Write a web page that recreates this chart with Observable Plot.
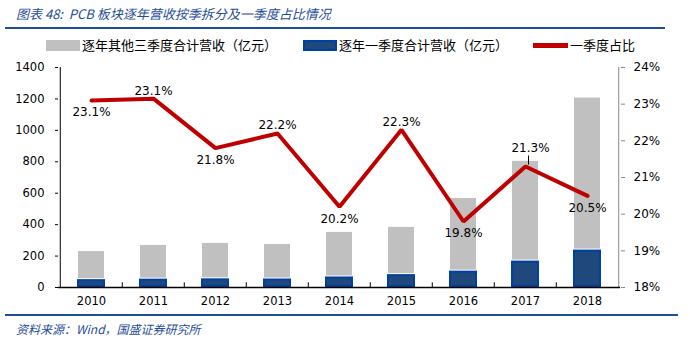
<!DOCTYPE html>
<html>
<head>
<meta charset="utf-8">
<script src="https://cdn.jsdelivr.net/npm/d3@7"></script>
<script src="https://cdn.jsdelivr.net/npm/@observablehq/plot@0.6"></script>
<style>
  body { margin: 0; background: #fff; width: 690px; height: 344px; position: relative; overflow: hidden; font-family: "Noto Sans CJK SC", sans-serif; }
  #title { position: absolute; left: 16px; top: 4px; font-size: 13px; font-style: italic; font-weight: normal; color: #1F4E99; white-space: nowrap; }
  #tline { position: absolute; left: 5px; top: 27px; width: 660px; height: 2px; background: #1F4E99; }
  .leg { position: absolute; top: 36px; font-size: 13px; color: #000; white-space: nowrap; line-height: 18px; }
  .sw { position: absolute; }
  #chart { position: absolute; left: 0; top: 55px; }
  #fline { position: absolute; left: 5px; top: 314px; width: 673px; height: 2px; background: #1F4E99; }
  #source { position: absolute; left: 16px; top: 320px; font-size: 12px; font-style: italic; color: #1F4E99; white-space: nowrap; }
</style>
</head>
<body>
<div id="title">图表 48:&nbsp; PCB 板块逐年营收按季拆分及一季度占比情况</div>
<div id="tline"></div>
<div class="sw" style="left:46px;top:40px;width:34px;height:11px;background:#C0C0C0"></div>
<div class="leg" style="left:82px">逐年其他三季度合计营收（亿元）</div>
<div class="sw" style="left:303px;top:40px;width:30px;height:7px;background:#1F497D;border:2px solid #0040A0"></div>
<div class="leg" style="left:339px">逐年一季度合计营收（亿元）</div>
<div class="sw" style="left:533px;top:43px;width:35px;height:5px;background:#C00000"></div>
<div class="leg" style="left:570px">一季度占比</div>
<div id="chart"></div>
<div id="fline"></div>
<div id="source">资料来源：Wind，国盛证券研究所</div>
<script>
const years = ["2010","2011","2012","2013","2014","2015","2016","2017","2018"];
const q1Revenue = [50, 53, 55, 54, 67, 82, 104, 168, 238];
const otherRevenue = [185, 221, 232, 226, 290, 307, 469, 641, 974];
const q1Share = [23.1, 23.15, 21.8, 22.2, 20.2, 22.3, 19.8, 21.3, 20.5];
const leftTicks = [0, 200, 400, 600, 800, 1000, 1200, 1400];
const rightTicks = [18, 19, 20, 21, 22, 23, 24];
const seriesNames = ["逐年一季度合计营收（亿元）", "逐年其他三季度合计营收（亿元）", "一季度占比"];

const yMax = 1400, pMin = 18, pMax = 24;
const toLeft = p => (p - pMin) / (pMax - pMin) * yMax;

const bars = [];
years.forEach((y, i) => {
  bars.push({year: y, series: seriesNames[0], value: q1Revenue[i]});
  bars.push({year: y, series: seriesNames[1], value: otherRevenue[i]});
});
const line = years.map((y, i) => ({year: y, share: q1Share[i], yv: toLeft(q1Share[i])}));

const W = 690, mL = 58, mR = 70;
const step = (W - mL - mR) / years.length;
const numFont = "DejaVu Sans, Verdana, sans-serif";

const below = ["2010","2012","2014","2016","2018"];
const above = ["2011","2013","2015"];
const first = years[0], last = years[years.length - 1];

const chart = Plot.plot({
  width: W, height: 255,
  marginLeft: mL, marginRight: mR, marginTop: 12, marginBottom: 23,
  style: {fontFamily: numFont, fontSize: "11px", color: "#000", background: "transparent"},
  x: {domain: years, paddingInner: 0.55, paddingOuter: 0.275, label: null},
  y: {domain: [0, yMax], label: null},
  color: {domain: seriesNames.slice(0, 2), range: ["#1F497D", "#C0C0C0"]},
  marks: [
    Plot.barY(bars, {x: "year", y: "value", fill: "series",
      stroke: d => d.series === seriesNames[0] ? "#0040A0" : "none", strokeWidth: 2, inset: 1}),
    Plot.ruleX(years.slice(1), {x: d => d, dx: -step / 2, y1: 0, y2: 30, stroke: "#000", strokeWidth: 1}),
    Plot.ruleX([first], {x: d => d, dx: -step / 2, y1: 0, y2: yMax, stroke: "#000", strokeWidth: 1}),
    Plot.ruleX([last], {x: d => d, dx: step / 2, y1: 0, y2: yMax, stroke: "#888", strokeWidth: 1}),
    Plot.ruleY([0], {stroke: "#000", strokeWidth: 1.5}),
    Plot.axisY({anchor: "left", ticks: leftTicks, tickSize: 3, tickPadding: 11, stroke: "#000", fontSize: 11.5,
      tickFormat: d => String(d)}),
    Plot.axisY({anchor: "right", ticks: rightTicks.map(toLeft), tickSize: 4, tickPadding: 9, stroke: "#888",
      tickFormat: d => Math.round(d / yMax * (pMax - pMin) + pMin) + "%", fill: "#000", fontSize: 12}),
    Plot.axisX({tickSize: 0, tickPadding: 9, fontSize: 11.5}),
    Plot.line(line, {x: "year", y: "yv", stroke: "#C00000", strokeWidth: 4, strokeLinejoin: "miter"}),
    Plot.link(line.filter(d => d.year === "2017"), {x1: "year", x2: "year", y1: d => d.yv + 12, y2: d => d.yv + 70, dx: 3, stroke: "#000", strokeWidth: 1}),
    Plot.text(line.filter(d => below.includes(d.year)), {x: "year", y: "yv", text: d => d.share.toFixed(1) + "%", dy: 12, fontSize: 12, fill: "#000"}),
    Plot.text(line.filter(d => above.includes(d.year)), {x: "year", y: "yv", text: d => d.share.toFixed(1) + "%", dy: -8, fontSize: 12, fill: "#000"}),
    Plot.text(line.filter(d => d.year === "2017"), {x: "year", y: "yv", text: d => d.share.toFixed(1) + "%", dy: -18, dx: 5, fontSize: 12, fill: "#000"})
  ]
});
document.getElementById("chart").appendChild(chart);
</script>
</body>
</html>
